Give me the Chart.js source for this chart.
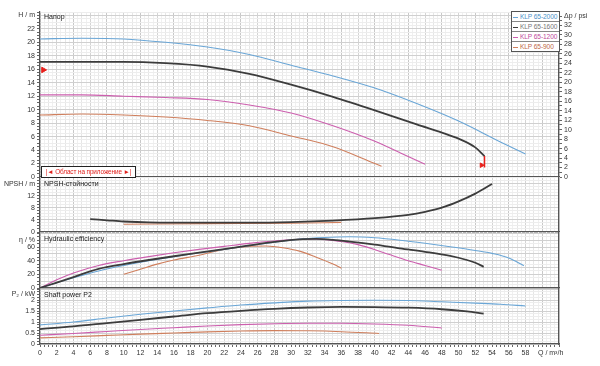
<!DOCTYPE html>
<html><head><meta charset="utf-8">
<script src="https://cdn.jsdelivr.net/npm/chart.js@4/dist/chart.umd.min.js"></script>
<style>
body{margin:0;background:#fff;width:600px;height:366px;overflow:hidden;position:relative;font-family:"Liberation Sans",Arial,sans-serif;}
canvas{position:absolute;left:0;top:0;}
.t{position:absolute;left:44px;font-size:7px;line-height:8px;color:#222;z-index:5;white-space:nowrap;}
#legend{position:absolute;left:511px;top:11px;width:47px;border:1px solid #555;background:#fff;z-index:6;overflow:hidden;}
#legend div{height:9px;line-height:9px;font-size:6.6px;border-top:1px solid #888;padding-left:1px;white-space:nowrap;letter-spacing:-0.1px;}
#legend div:first-child{border-top:none;}
#legend span{display:inline-block;width:5px;height:1px;vertical-align:middle;margin-right:2px;}
#range{position:absolute;left:41px;top:166px;width:93px;height:10px;border:1px solid #222;background:#fff;color:#e0201c;font-size:6.4px;line-height:10px;text-align:center;z-index:6;white-space:nowrap;overflow:hidden;letter-spacing:-0.1px;}
</style></head><body>
<canvas id="c1" width="600" height="366"></canvas>
<canvas id="c2" width="600" height="366"></canvas>
<canvas id="c3" width="600" height="366"></canvas>
<canvas id="c4" width="600" height="366"></canvas>
<div class="t" style="top:13px">Напор</div>
<div class="t" style="top:180px">NPSH-стойности</div>
<div class="t" style="top:235px">Hydraulic efficiency</div>
<div class="t" style="top:291px">Shaft power P2</div>
<div id="legend"></div>
<div id="range">|◄ Област на приложение ►|</div>
<script>
// ---------- DATA ----------
const seriesNames = ['KLP 65-2000','KLP 65-1600','KLP 65-1200','KLP 65-900'];
// Head H [m] vs Q [m3/h]
const qH2000 = [0,5,10,15,20,25,30,35,40,45,50,55,58];
const h2000  = [20.5,20.6,20.5,20.0,19.3,18.2,16.6,15.0,13.2,10.9,8.3,5.2,3.4];
const qH1600 = [0,5,10,15,20,25,30,35,40,45,48,50,52,53.1];
const h1600  = [17.1,17.1,17.1,16.9,16.4,15.3,13.7,11.9,9.9,7.8,6.6,5.7,4.4,3.1];
const qH1200 = [0,5,10,15,20,25,30,35,40,43,46];
const h1200  = [12.2,12.2,12.0,11.8,11.5,10.7,9.5,7.6,5.3,3.6,1.9];
const qH900  = [0,5,10,15,20,25,30,35,40,40.8];
const h900   = [9.2,9.35,9.2,8.9,8.4,7.6,6.1,4.5,2.0,1.6];
// NPSH [m]
const qN1600 = [6,8,10,13,20,25,30,35,40,44,46,48,50,52,54];
const n1600  = [4.3,3.9,3.5,3.2,3.1,3.1,3.3,3.8,4.6,5.7,6.7,8.1,10.2,12.8,16.0];
const qN900  = [10,20,30,36];
const n900   = [2.6,2.8,2.9,3.2];
// Hydraulic efficiency [%]
const qE2000 = [0,4,7,10,13,16,19,22,25,28,31,34,37,40,43,46,49,52,54,56,57.8];
const e2000  = [0,15,25,33,40,46,51.5,56.5,62,67,71.5,74,75,73.5,70,65.5,60.5,55,50.7,44,32.6];
const qE1600 = [0,2,4,7,10,13,16,19,22,25,28,31,33,35,37,40,43,46,49,51,52,53];
const e1600  = [0,8,16,28,35,41,46.5,51.7,57,62.4,67.5,71.3,71.8,70.5,68,63.5,58,53,47,41,37,31];
const qE1200 = [0,2,4,7,10,13,16,19,22,25,28,31,33,36,38,41,44,46,48];
const e1200  = [0,12,22,33,40,46,51.5,56.5,61,65.4,68.8,71.3,71.5,68,63.5,52,40,33,26];
const qE900  = [10,12,14,16,19,21,23,25,27,29,31,33,35,36];
const e900   = [20,27.5,35,41,48,54,58.5,61,61.5,59,54,45,35,29];
// Shaft power P2 [kW]
const qP2000 = [0,4,8,12,16,20,24,28,32,36,40,44,48,52,55,58];
const p2000  = [0.87,1.0,1.18,1.35,1.5,1.64,1.77,1.87,1.95,1.98,1.99,1.98,1.92,1.86,1.81,1.73];
const qP1600 = [0,4,8,12,16,20,24,28,32,36,40,44,48,51,53];
const p1600  = [0.68,0.8,0.95,1.1,1.25,1.4,1.51,1.6,1.66,1.69,1.68,1.65,1.58,1.48,1.38];
const qP1200 = [0,4,8,12,16,20,24,28,32,36,40,44,48];
const p1200  = [0.4,0.48,0.57,0.66,0.74,0.82,0.88,0.92,0.94,0.94,0.91,0.85,0.73];
const qP900  = [0,4,8,12,16,20,24,28,32,36,40.5];
const p900   = [0.28,0.33,0.39,0.45,0.5,0.55,0.59,0.61,0.6,0.56,0.48];
// Operating range markers
const markStart = [{x:0.4,y:15.9}];
const markEndLine = [{x:53.1,y:3.1},{x:53.1,y:1.4}];
const markEndTri = [{x:52.75,y:1.75}];
// Tick labels
const xLabelEvery = 2, xTitleAt = 61, xTitle = 'Q / m³/h';

// ---------- STYLE ----------
const FONT = "'Liberation Sans', Arial, sans-serif";
const COLORS = ['#6aa6d6','#3c3c3c','#cc5fae','#cf7f5d'];
const WIDTHS = [1.1,1.8,1.1,1.1];
Chart.defaults.font.family = FONT;
Chart.defaults.font.size = 7;
Chart.defaults.color = '#333';

function pts(xs, ys){ return xs.map((x,i)=>({x:x,y:ys[i]})); }
function isMult(v, m){ const r=v/m; return Math.abs(r-Math.round(r))<1e-6; }
function ds(idx, xs, ys){
  return {data:pts(xs,ys), borderColor:COLORS[idx], borderWidth:WIDTHS[idx], pointRadius:0,
          tension:0.35, cubicInterpolationMode:'monotone', fill:false, order: idx===1?0:idx+1};
}
function stepTicks(min,max,step){ const a=[]; for(let v=min; v<=max+1e-9; v+=step) a.push({value:Math.round(v*1000)/1000}); return a; }

function xScale(show){
  return {type:'linear', min:0, max:62,
    afterBuildTicks: s=>{ s.ticks = stepTicks(0,62,0.5); },
    ticks:{display:show, autoSkip:false, maxRotation:0, padding:2, font:{size:7},
      callback: v => (v===xTitleAt ? xTitle : (isMult(v,xLabelEvery) && v<=58 ? String(v) : ''))},
    grid:{color: c => isMult(c.tick.value,4)?'#c8c8c8':(isMult(c.tick.value,2)?'#d4d4d4':(isMult(c.tick.value,1)?'#e6e6e6':'#f0f0f0')),
          drawTicks:show, tickLength: 3, tickColor:'#666', lineWidth:1},
    border:{display:true, color:'#555', width:1.2},
    afterFit: s=>{ s.height = show?22:0; s.paddingLeft=0; s.paddingRight=0; s.paddingTop=0; s.paddingBottom=0; }
  };
}
function yScale(max, step, major, labelFn){
  return {type:'linear', position:'left', min:0, max:max,
    afterBuildTicks: s=>{ s.ticks = stepTicks(0,max,step); },
    ticks:{autoSkip:false, padding:2, font:{size:7}, callback: v => labelFn(v)},
    grid:{color: c => (c.tick && isMult(c.tick.value,major))?'#d0d0d0':'#ededed', drawTicks:true, tickLength:3, tickColor:'#666'},
    border:{display:true, color:'#555', width:1.2},
    afterFit: s=>{ s.width = 40; s.paddingTop=0; s.paddingBottom=0; s.paddingLeft=0; s.paddingRight=0; }
  };
}
function dummyRight(){
  return {type:'linear', position:'right', min:0, max:1, ticks:{display:false}, grid:{display:false},
    border:{display:true, color:'#555', width:1.2},
    afterFit: s=>{ s.width = 41; s.paddingTop=0; s.paddingBottom=0; }};
}
function makeChart(id, top, bottom, datasets, scales){
  return new Chart(document.getElementById(id), {
    type:'line', data:{datasets:datasets},
    options:{responsive:false, animation:false, events:[],
      layout:{padding:{top:top, bottom:bottom, left:0, right:0}},
      plugins:{legend:{display:false}, tooltip:{enabled:false}},
      scales:scales}
  });
}

// Panel 1: Head
const psiPerM = 1.4223;
const hMax = 24.5;
makeChart('c1', 12, 366-177, [
  ds(0,qH2000,h2000), ds(1,qH1600,h1600), ds(2,qH1200,h1200), ds(3,qH900,h900),
  {data:markStart, showLine:false, pointStyle:'triangle', rotation:90, pointRadius:3.2, backgroundColor:'#e8201c', borderColor:'#e8201c', clip:false, order:-1},
  {data:markEndLine, borderColor:'#e8201c', borderWidth:1.5, pointRadius:0, order:-1},
  {data:markEndTri, showLine:false, pointStyle:'triangle', rotation:90, pointRadius:2.6, backgroundColor:'#e8201c', borderColor:'#e8201c', order:-1}
], {
  x: xScale(false),
  y: yScale(hMax, 0.5, 2, v => v===24 ? 'H / m' : (isMult(v,2) && v<=22 ? String(v) : '')),
  y2: {type:'linear', position:'right', min:0, max:hMax*psiPerM,
    afterBuildTicks: s=>{ s.ticks = stepTicks(0,34,1); },
    ticks:{autoSkip:false, padding:2, font:{size:7}, callback: v => v===34 ? 'Δp / psi' : (isMult(v,2)&&v<=32 ? String(v) : '')},
    grid:{drawOnChartArea:false, drawTicks:true, tickLength:3, tickColor:'#666'},
    border:{display:true, color:'#555', width:1.2},
    afterFit: s=>{ s.width = 41; s.paddingTop=0; s.paddingBottom=0; }}
});

// Panel 2: NPSH
makeChart('c2', 177, 366-232, [ds(1,qN1600,n1600), ds(3,qN900,n900)], {
  x: xScale(false),
  y: yScale(18.33, 1, 4, v => v===16 ? 'NPSH / m' : (isMult(v,4) && v<=12 ? String(v) : '')),
  yr: dummyRight()
});

// Panel 3: Efficiency
makeChart('c3', 232, 366-288, [ds(0,qE2000,e2000), ds(1,qE1600,e1600), ds(2,qE1200,e1200), ds(3,qE900,e900)], {
  x: xScale(false),
  y: yScale(82, 5, 10, v => v===70 ? 'η / %' : (isMult(v,20) && v<=60 ? String(v) : '')),
  yr: dummyRight()
});

// Panel 4: Power
makeChart('c4', 289, 0, [ds(0,qP2000,p2000), ds(1,qP1600,p1600), ds(2,qP1200,p1200), ds(3,qP900,p900)], {
  x: xScale(true),
  y: yScale(2.5, 0.125, 0.5, v => v===2.25 ? 'P₂ / kW' : (isMult(v,0.5) && v<=2 ? String(v) : '')),
  yr: dummyRight()
});

// Legend
const lg = document.getElementById('legend');
const textCols = ['#4a90c8','#777777','#c04a9c','#c0684a'];
seriesNames.forEach((n,i)=>{
  const d=document.createElement('div');
  d.style.color=textCols[i];
  d.innerHTML='<span style="background:'+COLORS[i]+'"></span>'+n;
  lg.appendChild(d);
});
</script>
</body></html>
